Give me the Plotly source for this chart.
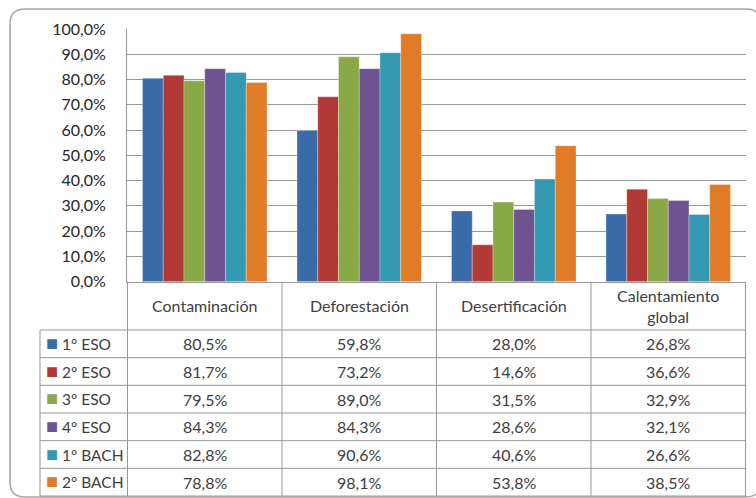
import plotly.graph_objects as go

# ---------------- data ----------------
categories = ["Contaminación", "Deforestación", "Desertificación", "Calentamiento global"]
header_labels = ["Contaminación", "Deforestación", "Desertificación", "Calentamiento<br>global"]
series_names = ["1º ESO", "2º ESO", "3º ESO", "4º ESO", "1º BACH", "2º BACH"]
eso1 = [80.5, 59.8, 28.0, 26.8]
eso2 = [81.7, 73.2, 14.6, 36.6]
eso3 = [79.5, 89.0, 31.5, 32.9]
eso4 = [84.3, 84.3, 28.6, 32.1]
bach1 = [82.8, 90.6, 40.6, 26.6]
bach2 = [78.8, 98.1, 53.8, 38.5]
series_values = [eso1, eso2, eso3, eso4, bach1, bach2]
y_ticks = [0, 10, 20, 30, 40, 50, 60, 70, 80, 90, 100]

# ---------------- style / layout geometry ----------------
colors = ["#3a6ba9", "#b13a37", "#89a846", "#6f5290", "#3398b2", "#e17b28"]
W, H = 756, 498
FONT = "Lato"
TXT = "#404040"
GRID = "#979797"
PLOT_L, PLOT_R, PLOT_T, PLOT_B = 127, 746, 29, 281.7
TABLE_L = 40
HEADER_B = 330
ROW_H = 27.67


def fx(px):
    return px / W


def fy(py):
    return 1 - py / H


def pct(v):
    return f"{v:.1f}%".replace(".", ",")


fig = go.Figure()

for name, vals, col in zip(series_names, series_values, colors):
    fig.add_trace(
        go.Bar(
            x=categories,
            y=vals,
            name=name,
            marker=dict(color=col, line=dict(width=1, color="rgba(255,255,255,0.3)")),
            showlegend=False,
        )
    )

line_style = dict(color=GRID, width=1)
n_rows = len(series_names)
table_bottom = HEADER_B + n_rows * ROW_H

# ---- data table: header texts ----
for cat, lab in zip(categories, header_labels):
    fig.add_annotation(
        x=cat, xref="x", y=fy((PLOT_B + HEADER_B) / 2), yref="paper",
        text=lab, showarrow=False, xanchor="center", yanchor="middle",
        font=dict(family=FONT, size=16, color=TXT),
    )

# ---- data table: rows ----
for i, (name, vals, col) in enumerate(zip(series_names, series_values, colors)):
    yc = fy(HEADER_B + ROW_H * (i + 0.5))
    fig.add_annotation(
        x=fx(TABLE_L + 4), xref="paper", y=yc, yref="paper", yshift=2,
        text=f'<span style="color:{col};font-size:20px">■</span> {name}',
        showarrow=False, xanchor="left", yanchor="middle",
        font=dict(family=FONT, size=15.5, color=TXT),
    )
    for cat, v in zip(categories, vals):
        fig.add_annotation(
            x=cat, xref="x", y=yc, yref="paper",
            text=pct(v), showarrow=False, xanchor="center", yanchor="middle",
            font=dict(family=FONT, size=16, color=TXT),
        )

# ---- data table: grid lines ----
for k in range(len(categories) + 1):
    fig.add_shape(type="line", xref="x", yref="paper",
                  x0=k - 0.5, x1=k - 0.5, y0=fy(PLOT_B), y1=fy(table_bottom), line=line_style)
fig.add_shape(type="line", xref="paper", yref="paper",
              x0=fx(TABLE_L), x1=fx(TABLE_L), y0=fy(HEADER_B), y1=fy(table_bottom), line=line_style)
for i in range(n_rows + 1):
    yy = fy(HEADER_B + ROW_H * i)
    fig.add_shape(type="line", xref="paper", yref="paper",
                  x0=fx(TABLE_L), x1=fx(PLOT_R), y0=yy, y1=yy, line=line_style)

# ---- outer rounded frame ----
x0, y0, x1, y1, r = fx(10), fy(9), fx(761), fy(497), 15
rx, ry = r / W, r / H
path = (
    f"M {x0 + rx},{y0} L {x1 - rx},{y0} Q {x1},{y0} {x1},{y0 - ry} "
    f"L {x1},{y1 + ry} Q {x1},{y1} {x1 - rx},{y1} "
    f"L {x0 + rx},{y1} Q {x0},{y1} {x0},{y1 + ry} "
    f"L {x0},{y0 - ry} Q {x0},{y0} {x0 + rx},{y0} Z"
)
fig.add_shape(type="path", path=path, xref="paper", yref="paper",
              line=dict(color="#a6a6a6", width=1.5), layer="below")

fig.update_layout(
    template="none",
    width=W, height=H,
    margin=dict(l=0, r=0, t=0, b=0, pad=0),
    paper_bgcolor="white", plot_bgcolor="white",
    barmode="group", bargap=0.194, bargroupgap=0,
    separators=",.",
    font=dict(family=FONT, size=16, color=TXT),
    showlegend=False,
    xaxis=dict(
        domain=[fx(PLOT_L), fx(PLOT_R)],
        showticklabels=False, ticks="", automargin=False,
        showline=True, linecolor=GRID, linewidth=1,
        showgrid=False, zeroline=False,
    ),
    yaxis=dict(
        domain=[fy(PLOT_B), fy(PLOT_T)],
        range=[0, 100], tickvals=y_ticks, ticktext=[pct(v) for v in y_ticks],
        showline=True, linecolor=GRID, linewidth=1,
        showgrid=True, gridcolor=GRID, gridwidth=1,
        ticks="", ticklabelstandoff=17, automargin=False,
        tickfont=dict(family=FONT, size=16, color="#262626"),
        zeroline=False,
    ),
)

fig.write_html("out.html", post_script="document.body.style.margin='0';",
               config={"displayModeBar": False})
